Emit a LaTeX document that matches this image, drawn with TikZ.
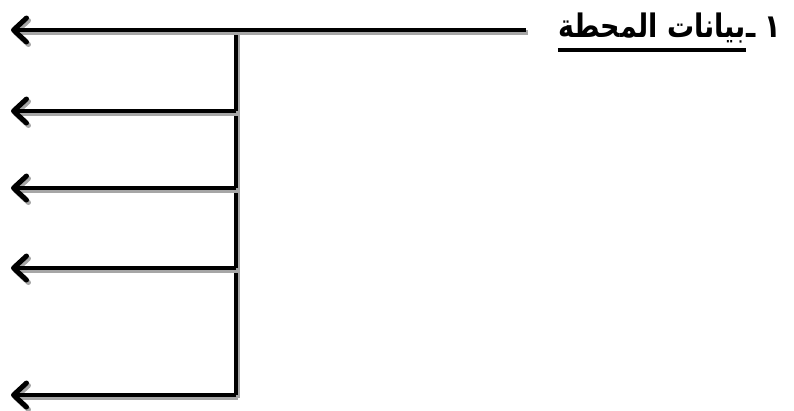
\documentclass[tikz,border=0pt]{standalone}
\usepackage{fontspec}
\usetikzlibrary{arrows.meta}
\TeXXeTstate=1
\newfontfamily\arabicfont[Script=Arabic]{DejaVu Sans}
\newcommand{\lblfont}{\arabicfont\bfseries\fontsize{27}{32}\selectfont}
\tikzset{
  x=1pt,y=-1pt,
  wire/.style={line width=4.5pt, black, line cap=butt,
    preaction={draw=black!35, line width=4.5pt, transform canvas={shift={(2pt,-2.5pt)}}}},
  arr/.style={wire, arrows={-{Straight Barb[round,length=13pt,width=24pt,line width=5pt]}}},
  lbl/.style={font=\lblfont, inner sep=0pt}
}
\begin{document}
\begin{tikzpicture}
\useasboundingbox (0,0) rectangle (794,410);
\node[lbl, anchor=base east] (title) at (746,37) {\scalebox{1}[1.2]{\beginR بيانات المحطة\endR}};
\node[lbl, anchor=base west] (num) at (title.base east) {\scalebox{1}[1.2]{\beginR ١ ـ\endR}};
\draw[line width=4pt] ([yshift=-13pt]title.base west) -- ([yshift=-13pt]title.base east);
\coordinate (start) at (526,30);
\coordinate (j1) at (236,30);
\coordinate (j2) at (236,111);
\coordinate (j3) at (236,188);
\coordinate (j4) at (236,268);
\coordinate (j5) at (236,395);
\coordinate (e1) at (11,30);
\coordinate (e2) at (11,111);
\coordinate (e3) at (11,188);
\coordinate (e4) at (11,268);
\coordinate (e5) at (11,395);
\draw[wire] (j1) -- (j5);
\draw[arr] (start) -- (e1);
\draw[arr] (j2) -- (e2);
\draw[arr] (j3) -- (e3);
\draw[arr] (j4) -- (e4);
\draw[arr] (j5) -- (e5);
\end{tikzpicture}
\end{document}
